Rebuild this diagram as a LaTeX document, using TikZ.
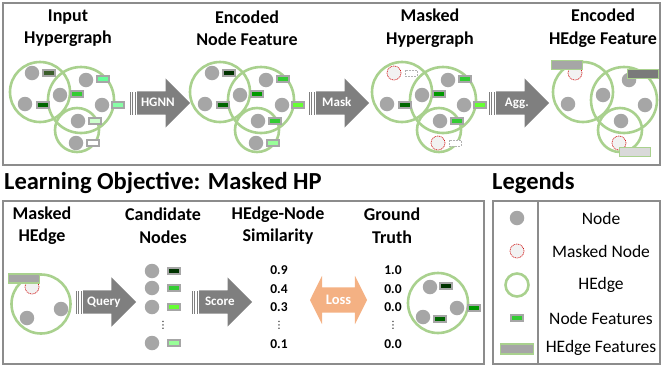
\documentclass[tikz,border=0pt]{standalone}
\usepackage{fontspec}
\setmainfont{Carlito}
\newfontfamily\dotsfont{DejaVu Sans}
\usepackage{tikz}
\usetikzlibrary{shapes.arrows}

\definecolor{hedgegreen}{HTML}{A9D18E}
\definecolor{nodegray}{HTML}{A6A6A6}
\definecolor{arrowgray}{HTML}{7F7F7F}
\definecolor{framegray}{HTML}{8C8C8C}
\definecolor{lossorange}{HTML}{F4B183}
\definecolor{maskfill}{HTML}{F2F2F2}
\definecolor{hgray}{HTML}{A6A6A6}
\definecolor{hdark}{HTML}{7A7A7A}
\definecolor{hlight}{HTML}{D9D9D9}
\definecolor{gA}{HTML}{3B5E2B}
\definecolor{gB}{HTML}{66FF99}
\definecolor{gC}{HTML}{88FFA6}
\definecolor{gD}{HTML}{CCFFCC}
\definecolor{g0}{HTML}{003300}
\definecolor{g1}{HTML}{006600}
\definecolor{g2}{HTML}{009900}
\definecolor{g3}{HTML}{33CC33}
\definecolor{g4}{HTML}{66FF33}
\definecolor{g5}{HTML}{99FF99}

% the three hyperedges of a hypergraph
\newcommand{\hgedges}[1]{%
  \node[hedge, minimum size=60pt] (#1-e1) at (40,92) {};
  \node[hedge, minimum size=66pt] (#1-e2) at (81,100) {};
  \node[hedge, minimum size=44pt] (#1-e3) at (77,130) {};
}
% nodes, #2 = style of node 1 and 7
\newcommand{\hgnodes}[2]{%
  \foreach \i/\x/\y/\st in {1/32/73/#2, 2/25/104/vnode, 3/60/95/vnode,
      4/86/80/vnode, 5/102/105/vnode, 6/78/121/vnode, 7/76/143/#2}
    \node[\st] (#1-n\i) at (\x,\y) {};
}
% node features
\newcommand{\hgfeats}[8]{%
  \node[feat, #2] (#1-f1) at (49,73) {};
  \node[feat, #3] (#1-f2) at (43,105) {};
  \node[feat, #4] (#1-f3) at (77,94) {};
  \node[feat, #5] (#1-f4) at (103,79) {};
  \node[feat, #6] (#1-f5) at (118,105) {};
  \node[feat, #7] (#1-f6) at (95,121) {};
  \node[feat, #8] (#1-f7) at (93,143) {};
}
% the bars behind an arrow
\newcommand{\tailbars}[1]{%
  \foreach \d in {2.4,4.8,7.2}
    \fill[arrowgray] ([xshift=-\d pt, yshift=11.5pt]#1.tail)
      rectangle ([xshift=-\d pt+1.2pt, yshift=-11.5pt]#1.tail);
}

\begin{document}
\begin{tikzpicture}[x=1pt, y=-1pt,
    frame/.style={draw=framegray, line width=1.5pt},
    title/.style={font=\bfseries\fontsize{18}{22.5}\selectfont, align=center, inner sep=0pt},
    bigtitle/.style={font=\bfseries\fontsize{24.5}{28}\selectfont, inner sep=0pt},
    legtext/.style={font=\fontsize{17.5}{20}\selectfont, inner sep=0pt},
    score/.style={font=\bfseries\fontsize{13.5}{15}\selectfont, inner sep=0pt},
    vdots/.style={font=\dotsfont\fontsize{10}{10}\selectfont, inner sep=0pt},
    hedge/.style={circle, draw=hedgegreen, line width=2.6pt, inner sep=0pt},
    vnode/.style={circle, fill=nodegray, minimum size=14.5pt, inner sep=0pt},
    masked/.style={circle, fill=maskfill, draw=red!80!black, line width=0.6pt,
      dash pattern=on 1pt off 0.8pt, minimum size=14pt, inner sep=0pt},
    feat/.style={rectangle, draw=nodegray, line width=1.4pt, minimum width=12pt,
      minimum height=6pt, inner sep=0pt},
    nofeat/.style={draw=gray!60, fill=white, line width=0.8pt, dash pattern=on 2pt off 1pt},
    hfeat/.style={rectangle, draw=hedgegreen, line width=1.8pt, minimum width=31pt,
      minimum height=9pt, inner sep=0pt},
    blockarrow/.style={single arrow, fill=arrowgray, text=white, anchor=tail,
      font=\bfseries\fontsize{13}{13}\selectfont, single arrow head extend=13pt,
      single arrow head indent=0pt, minimum height=53pt, text height=8.5pt,
      text depth=2.5pt, inner ysep=6pt, inner xsep=-3pt},
    lossarrow/.style={double arrow, fill=lossorange, text=white,
      font=\bfseries\fontsize{14.5}{14.5}\selectfont, double arrow head extend=11.5pt,
      double arrow tip angle=127, minimum height=57pt, text height=9pt,
      text depth=1pt, inner ysep=7.5pt, inner xsep=0pt}]

  \useasboundingbox (0,0) rectangle (662,370);

  % pipeline
  \draw[frame] (3,3) rectangle (660,165);
  \node[title] (t-input) at (68,28) {Input\\Hypergraph};
  \node[title] (t-encnode) at (247,28) {Encoded\\Node Feature};
  \node[title] (t-masked) at (430,28) {Masked\\Hypergraph};
  \node[title] (t-enchedge) at (603,28) {Encoded\\HEdge Feature};

  \begin{scope}
    \hgedges{a}
    \hgnodes{a}{vnode}
    \hgfeats{a}{fill=gA}{fill=g1}{fill=g3}{fill=gB}{fill=gC}{fill=gD}{fill=white}
  \end{scope}
  \begin{scope}[xshift=180pt]
    \hgedges{b}
    \hgnodes{b}{vnode}
    \hgfeats{b}{fill=g0}{fill=g1}{fill=g2}{fill=g3}{fill=g4}{fill=g3}{fill=g5}
  \end{scope}
  \begin{scope}[xshift=362pt]
    \hgedges{c}
    \hgnodes{c}{masked}
    \hgfeats{c}{nofeat}{fill=g1}{fill=g2}{fill=g3}{fill=g4}{fill=g3}{nofeat}
  \end{scope}
  \begin{scope}[xshift=543pt]
    \hgedges{d}
    \hgnodes{d}{masked}
    \node[hfeat, fill=hgray] (d-h1) at (24,65) {};
    \node[hfeat, fill=hdark] (d-h2) at (100,74) {};
    \node[hfeat, fill=hlight] (d-h3) at (92,152) {};
  \end{scope}

  \node[blockarrow] (hgnn) at (137,103) {HGNN};
  \tailbars{hgnn}
  \node[blockarrow] (mask) at (316,103) {Mask};
  \tailbars{mask}
  \node[blockarrow] (agg) at (496,103) {Agg.};
  \tailbars{agg}

  % learning objective
  \node[bigtitle, anchor=west] (t-obj) at (4,183) {Learning Objective: Masked HP};
  \draw[frame] (3,201) rectangle (484,364);
  \node[title] (t-mhedge) at (42,225.5) {Masked\\HEdge};
  \node[title] (t-cand) at (163,225.5) {Candidate\\Nodes};
  \node[title] (t-sim) at (278,225.5) {HEdge-Node\\Similarity};
  \node[title] (t-truth) at (392,225.5) {Ground\\Truth};

  \node[hedge, minimum size=59pt] (q-e) at (41,304) {};
  \node[masked] (q-n1) at (32,287) {};
  \node[vnode] (q-n2) at (27,318) {};
  \node[vnode] (q-n3) at (61,309) {};
  \node[hfeat, fill=hgray] (q-h) at (24,278.5) {};

  \node[blockarrow] (query) at (83,302) {Query};
  \tailbars{query}

  \foreach \i/\y/\c in {1/271/g0, 2/288/g3, 3/307/g4, 4/343/g5} {
    \node[vnode] (c-n\i) at (152,\y) {};
    \node[feat, fill=\c] (c-f\i) at (174,\y) {};
  }
  \node[vdots] (c-dots) at (163,325) {⋮};

  \node[blockarrow] (score) at (199,302) {Score};
  \tailbars{score}

  \foreach \i/\y/\v in {1/270/0.9, 2/289/0.4, 3/307/0.3, 4/344/0.1}
    \node[score] (s-\i) at (279,\y) {\v};
  \node[vdots] (s-dots) at (279,325) {⋮};

  \node[lossarrow] (loss) at (338.5,300) {Loss};

  \foreach \i/\y/\v in {1/270/1.0, 2/289/0.0, 3/307/0.0, 4/344/0.0}
    \node[score] (g-\i) at (393,\y) {\v};
  \node[vdots] (g-dots) at (393,325) {⋮};

  \node[hedge, minimum size=60pt] (g-e) at (438,303) {};
  \node[vnode] (g-n1) at (430,287) {};
  \node[vnode] (g-n2) at (423,317) {};
  \node[vnode] (g-n3) at (457,308) {};
  \node[feat, fill=g0] (g-f1) at (446,286) {};
  \node[feat, fill=g1] (g-f2) at (440,319) {};
  \node[feat, fill=g2] (g-f3) at (474,308) {};

  % legends
  \node[bigtitle, anchor=west] (t-leg) at (492,183) {Legends};
  \draw[frame] (493,201) rectangle (660,364);
  \draw[frame] (538,201) -- (538,364);
  \node[vnode] (l-node) at (517,218) {};
  \node[masked] (l-masked) at (517,251) {};
  \node[hedge, minimum size=23pt] (l-hedge) at (517,285) {};
  \node[feat, fill=g3] (l-feat) at (517,318) {};
  \node[hfeat, fill=hgray, minimum width=33pt, minimum height=10pt] (l-hfeat) at (517,349) {};
  \node[legtext] (l-node-t) at (601,218) {Node};
  \node[legtext] (l-masked-t) at (601,251) {Masked Node};
  \node[legtext] (l-hedge-t) at (601,285) {HEdge};
  \node[legtext] (l-feat-t) at (601,318) {Node Features};
  \node[legtext] (l-hfeat-t) at (601,348) {HEdge Features};
\end{tikzpicture}
\end{document}
